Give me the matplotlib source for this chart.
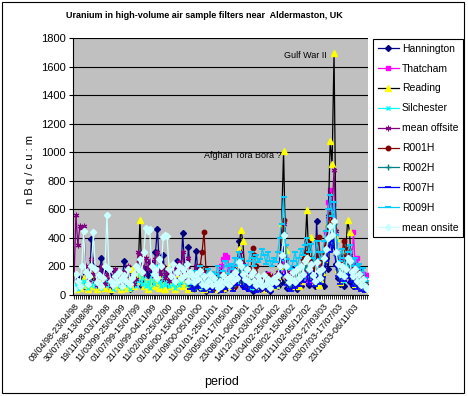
import numpy as np
import matplotlib
matplotlib.use("Agg")
import matplotlib.pyplot as plt
from matplotlib.patches import Rectangle

plt.rcParams['font.family'] = ['Liberation Sans', 'DejaVu Sans']

N = 152
tick_labels = ["09/04/98-23/04/98", "30/07/98-13/08/98", "19/11/98-03/12/98",
               "11/03/99-25/03/99", "01/07/99-15/07/99", "21/10/99-04/11/99",
               "11/02/00-25/02/00", "01/06/00-15/06/00", "21/09/00-05/10/00",
               "11/01/01-25/01/01", "03/05/01-17/05/01", "23/08/01-06/09/01",
               "14/12/01-03/01/02", "11/04/02-25/04/02", "01/08/02-15/08/02",
               "21/11/02-05/12/02", "13/03/03-27/03/03", "03/07/03-17/07/03",
               "23/10/03-06/11/03"]

hannington = [80, 95, 70, 120, 90, 60, 150, 110,
              90, 390, 200, 130, 60, 100, 258, 170,
              120, 60, 140, 30, 90, 170, 60, 110,
              80, 140, 241, 130, 70, 40, 160, 90,
              120, 200, 150, 60, 90, 180, 140, 230,
              170, 110, 300, 465, 200, 130, 280, 90,
              160, 60, 120, 180, 70, 240, 130, 100,
              432, 210, 120, 333, 150, 60, 140, 310,
              120, 50, 90, 140, 30, 80, 110, 40,
              60, 120, 35, 90, 150, 60, 40, 100,
              70, 130, 50, 180, 90, 380, 210, 60,
              100, 50, 140, 70, 30, 120, 60, 90,
              40, 110, 70, 150, 60, 30, 100, 80,
              130, 60, 200, 90, 330, 140, 50, 110,
              70, 180, 90, 40, 130, 60, 220, 110,
              150, 70, 240, 100, 60, 517, 200, 90,
              130, 60, 260, 180, 400, 500, 350, 220,
              120, 80, 200, 60, 150, 230, 90, 140,
              60, 120, 80, 180, 50, 100, 70, 40]

thatcham = [None] * 74 + [
              90, 130, 200, 250, 280, 265,
              180, 120, 90, 150, 200, 130, 170, 100,
              80, 140, 110, 60, 90, 150, 120, 70,
              100, 60, 130, 90, 150, 80, 110, 60,
              90, 140, 200, 180, 265, 150, 120, 80,
              100, 160, 90, 130, 70, 190, 110, 150,
              130, 90, 170, 120, 200, 150, 100, 240,
              180, 300, 440, 650, 735, 560, 400, 300,
              200, 150, 250, 120, 180, 300, 200, 160,
              440, 175, 260, 120, 60, 150, 90, 140]

reading = [60, 40, 90, 50, 80, 120, 70, 40,
           100, 60, 150, 80, 40, 110, 60, 90,
           50, 130, 70, 40, 100, 60, 150, 80,
           40, 90, 60, 120, 50, 80, 180, 60,
           100, 150, 522, 130, 60, 90, 40, 70,
           110, 60, 180, 90, 50, 140, 70, 40,
           100, 200, 60, 90, 40, 150, 70, 110,
           60, 130, 80, 40, 100, 70, 50, 120,
           90, 160, 60, 40, 100, 70, 130, 50,
           80, 40, 110, 60, 90, 50, 140, 70,
           100, 60, 150, 90, 200, 320, 455, 380,
           160, 90, 120, 60, 100, 70, 130, 50,
           90, 60, 110, 40, 80, 130, 60, 100,
           70, 120, 200, 504, 1010, 315, 150, 90,
           60, 110, 80, 140, 60, 100, 200, 300,
           598, 240, 406, 150, 90, 130, 70, 110,
           160, 250, 330, 504, 1080, 917, 1695, 400,
           180, 90, 140, 220, 300, 525, 440, 200,
           130, 80, 160, 60, 100, 50, 80, 40]

silchester = [50, 70, 40, 90, 60, 100, 80, 50,
              120, 70, 90, 60, 140, 80, 50, 100,
              70, 110, 60, 90, 40, 130, 80, 60,
              100, 50, 80, 150, 70, 40, 90, 120,
              60, 100, 200, 80, 130, 60, 90, 50,
              140, 80, 110, 200, 90, 60, 150, 70,
              100, 60, 130, 80, 50, 110, 70, 90,
              200, 120, 70, 150, 90, 50, 100, 80,
              60, 110, 40, 90, 70, 120, 50, 80,
              100, 60, 90, 40, 120, 70, 150, 90,
              60, 110, 80, 140, 90, 200, 160, 80,
              120, 70, 100, 50, 90, 130, 60, 80,
              70, 110, 50, 90, 130, 60, 100, 80,
              60, 140, 180, 250, 400, 200, 110, 70,
              90, 130, 60, 100, 80, 150, 120, 200,
              250, 150, 200, 110, 80, 280, 150, 100,
              200, 300, 350, 500, 480, 420, 600, 380,
              200, 140, 180, 100, 160, 250, 300, 150,
              120, 200, 90, 140, 60, 100, 70, 50]

mean_offsite = [100, 560, 350, 480, 470, 485, 200, 120,
                90, 250, 150, 100, 70, 130, 200, 120,
                80, 150, 110, 60, 120, 180, 90, 140,
                100, 70, 160, 120, 200, 90, 130, 80,
                110, 300, 280, 200, 150, 260, 180, 240,
                200, 130, 250, 300, 170, 150, 200, 120,
                160, 100, 140, 190, 110, 200, 230, 150,
                300, 180, 120, 260, 140, 90, 150, 200,
                130, 90, 120, 160, 80, 110, 140, 70,
                100, 150, 80, 120, 170, 100, 140, 90,
                120, 160, 100, 180, 140, 260, 300, 220,
                140, 100, 150, 90, 120, 160, 100, 130,
                90, 120, 80, 140, 100, 70, 130, 110,
                120, 160, 220, 300, 500, 250, 160, 110,
                100, 150, 120, 170, 90, 140, 200, 180,
                260, 170, 240, 150, 120, 280, 200, 140,
                200, 280, 380, 550, 700, 600, 875, 450,
                250, 160, 220, 180, 200, 300, 280, 200,
                220, 160, 180, 120, 100, 130, 90, 70]

r001h = [None] * 60 + [
         80, 120, 60, 150,
         100, 200, 300, 444, 180, 90, 60, 120,
         50, 90, 140, 70, 40, 110, 60, 80,
         130, 70, 100, 60, 150, 220, 120, 90,
         60, 110, 80, 130, 330, 280, 200, 100,
         80, 50, 120, 60, 140, 40, 90, 70,
         110, 150, 200, 300, 526, 200, 120, 80,
         60, 100, 140, 80, 180, 120, 250, 300,
         380, 200, 260, 150, 180, 280, 407, 250,
         180, 300, 350, 480, 570, 520, 460, 300,
         200, 150, 270, 380, 250, 320, 220, 180,
         140, 100, 160, 80, 120, 60, 90, 50]

r002h = [None] * 60 + [
         60, 90, 40, 110,
         70, 130, 80, 50, 100, 60, 120, 40,
         90, 60, 110, 70, 40, 100, 60, 80,
         120, 80, 60, 140, 100, 180, 150, 90,
         70, 110, 60, 90, 140, 80, 60, 100,
         50, 90, 70, 120, 60, 40, 100, 80,
         90, 130, 200, 300, 434, 180, 100, 70,
         60, 110, 80, 140, 100, 160, 120, 200,
         180, 120, 220, 140, 100, 200, 160, 120,
         160, 240, 300, 380, 420, 360, 500, 280,
         180, 120, 200, 140, 160, 240, 200, 130,
         100, 150, 80, 120, 60, 90, 50, 70]

r007h = [None] * 60 + [
         40, 70, 30, 90,
         50, 100, 60, 30, 80, 40, 110, 20,
         60, 40, 90, 50, 20, 70, 40, 60,
         90, 50, 30, 110, 70, 150, 120, 60,
         40, 80, 30, 60, 100, 50, 20, 70,
         30, 60, 40, 90, 30, 20, 70, 50,
         60, 100, 150, 250, 350, 140, 70, 40,
         30, 80, 50, 110, 60, 130, 90, 150,
         140, 80, 170, 100, 60, 150, 110, 80,
         120, 180, 240, 300, 380, 300, 420, 200,
         130, 80, 150, 100, 120, 180, 140, 90,
         60, 100, 40, 80, 30, 60, 20, 40]

r009h = [None] * 60 + [
         80, 130, 100, 170,
         120, 200, 150, 90, 140, 180, 110, 160,
         100, 150, 200, 130, 90, 170, 240, 200,
         150, 220, 180, 260, 200, 300, 250, 180,
         210, 160, 240, 300, 260, 200, 280, 230,
         250, 320, 280, 220, 300, 240, 200, 260,
         230, 300, 400, 500, 683, 350, 250, 200,
         180, 240, 300, 200, 260, 320, 280, 350,
         400, 300, 360, 260, 220, 380, 300, 250,
         300, 380, 450, 600, 700, 550, 650, 420,
         300, 240, 320, 260, 200, 300, 350, 250,
         200, 260, 180, 220, 150, 190, 120, 100]

mean_onsite = [40, 150, 100, 60, 200, 450, 160, 80,
               130, 200, 440, 180, 90, 140, 60, 120,
               200, 563, 180, 100, 70, 130, 90, 160,
               110, 60, 140, 100, 180, 80, 120, 150,
               200, 180, 250, 160, 300, 470, 450, 460,
               200, 150, 180, 120, 250, 200, 407, 420,
               410, 180, 130, 220, 100, 160, 200, 120,
               180, 140, 220, 100, 160, 130, 90, 150,
               110, 170, 80, 130, 60, 100, 150, 70,
               120, 80, 50, 100, 60, 140, 90, 110,
               70, 130, 100, 160, 120, 230, 200, 150,
               110, 180, 90, 140, 160, 100, 70, 130,
               100, 60, 140, 80, 110, 50, 90, 120,
               90, 140, 200, 280, 420, 200, 130, 90,
               110, 160, 90, 180, 120, 200, 150, 240,
               260, 180, 220, 140, 100, 230, 170, 120,
               180, 260, 320, 400, 480, 420, 520, 300,
               220, 150, 200, 130, 180, 260, 240, 160,
               130, 180, 100, 150, 70, 110, 60, 40]

series = [
    ("Hannington", hannington, dict(color="#000080", marker="D", ms=3, mfc="#000080", mec="#000080")),
    ("Thatcham", thatcham, dict(color="#FF00FF", marker="s", ms=3.2, mfc="#FF00FF", mec="#FF00FF")),
    ("Reading", reading, dict(color="#000000", marker="^", ms=4, mfc="#FFFF00", mec="#FFFF00")),
    ("Silchester", silchester, dict(color="#00FFFF", marker="x", ms=3.5, mec="#00FFFF", mew=1)),
    ("mean offsite", mean_offsite, dict(color="#800080", marker=(6, 2, 0), ms=4, mec="#800080", mew=0.8)),
    ("R001H", r001h, dict(color="#800000", marker="o", ms=3.2, mfc="#800000", mec="#800000")),
    ("R002H", r002h, dict(color="#008080", marker="+", ms=4, mec="#008080", mew=1)),
    ("R007H", r007h, dict(color="#0000FF", marker="_", ms=4, mec="#0000FF", mew=1.2)),
    ("R009H", r009h, dict(color="#00CCFF", marker="_", ms=5, mec="#00CCFF", mew=1.5)),
    ("mean onsite", mean_onsite, dict(color="#CCFFFF", marker="D", ms=3.2, mfc="#CCFFFF", mec="#CCFFFF")),
]

fig = plt.figure(figsize=(4.68, 3.96), dpi=100)
ax = fig.add_axes([73 / 468, 1 - 295 / 396, 295 / 468, 257 / 396])
ax.set_facecolor("#C0C0C0")

x = np.arange(N)
for name, vals, style in series:
    y = np.array(vals, dtype=float)
    ax.plot(x, y, lw=0.9, label=name, **style)

ax.set_xlim(-0.5, N - 0.5)
ax.set_ylim(0, 1800)
ax.set_yticks(np.arange(0, 1801, 200))
ax.yaxis.grid(True, color="black", lw=0.8)
ax.set_axisbelow(True)
for s in ("top", "right"):
    ax.spines[s].set_visible(False)
ax.spines["left"].set_linewidth(0.8)
ax.spines["bottom"].set_linewidth(0.8)

ax.set_xticks(np.arange(0, N, 8))
ax.set_xticks(np.arange(N), minor=True)
ax.set_xticklabels(tick_labels, rotation=50, ha="right", rotation_mode="anchor", fontsize=6.5)
ax.tick_params(axis="x", which="both", length=3, width=0.6, pad=2)
ax.tick_params(axis="y", length=3, width=0.8, labelsize=8, pad=2)

ax.text(107, 975, "Afghan Tora Bora ?", ha="right", va="center", fontsize=6.5)
ax.text(130, 1680, "Gulf War II", ha="right", va="center", fontsize=6.5)

fig.text(204 / 468, 1 - 16 / 396, "Uranium in high-volume air sample filters near  Aldermaston, UK",
         ha="center", va="center", fontsize=6.5, fontweight="bold")
fig.text(30 / 468, 1 - 170 / 396, "n B q / c u : m", rotation=90, ha="center", va="center", fontsize=8)
fig.text(222 / 468, 1 - 382 / 396, "period", ha="center", va="center", fontsize=9)

leg = fig.legend(loc="upper left", bbox_to_anchor=(373 / 468, 1 - 39 / 396), fontsize=7.5,
                 frameon=True, fancybox=False, edgecolor="black", framealpha=1,
                 handlelength=2.0, labelspacing=0.95, borderpad=0.45, handletextpad=0.3,
                 borderaxespad=0)
leg.get_frame().set_linewidth(0.8)

fig.patches.append(Rectangle((2 / 468, 3 / 396), 462 / 468, 391 / 396, transform=fig.transFigure,
                             fill=False, ec="black", lw=0.8))

fig.savefig("out.png", dpi=100)
